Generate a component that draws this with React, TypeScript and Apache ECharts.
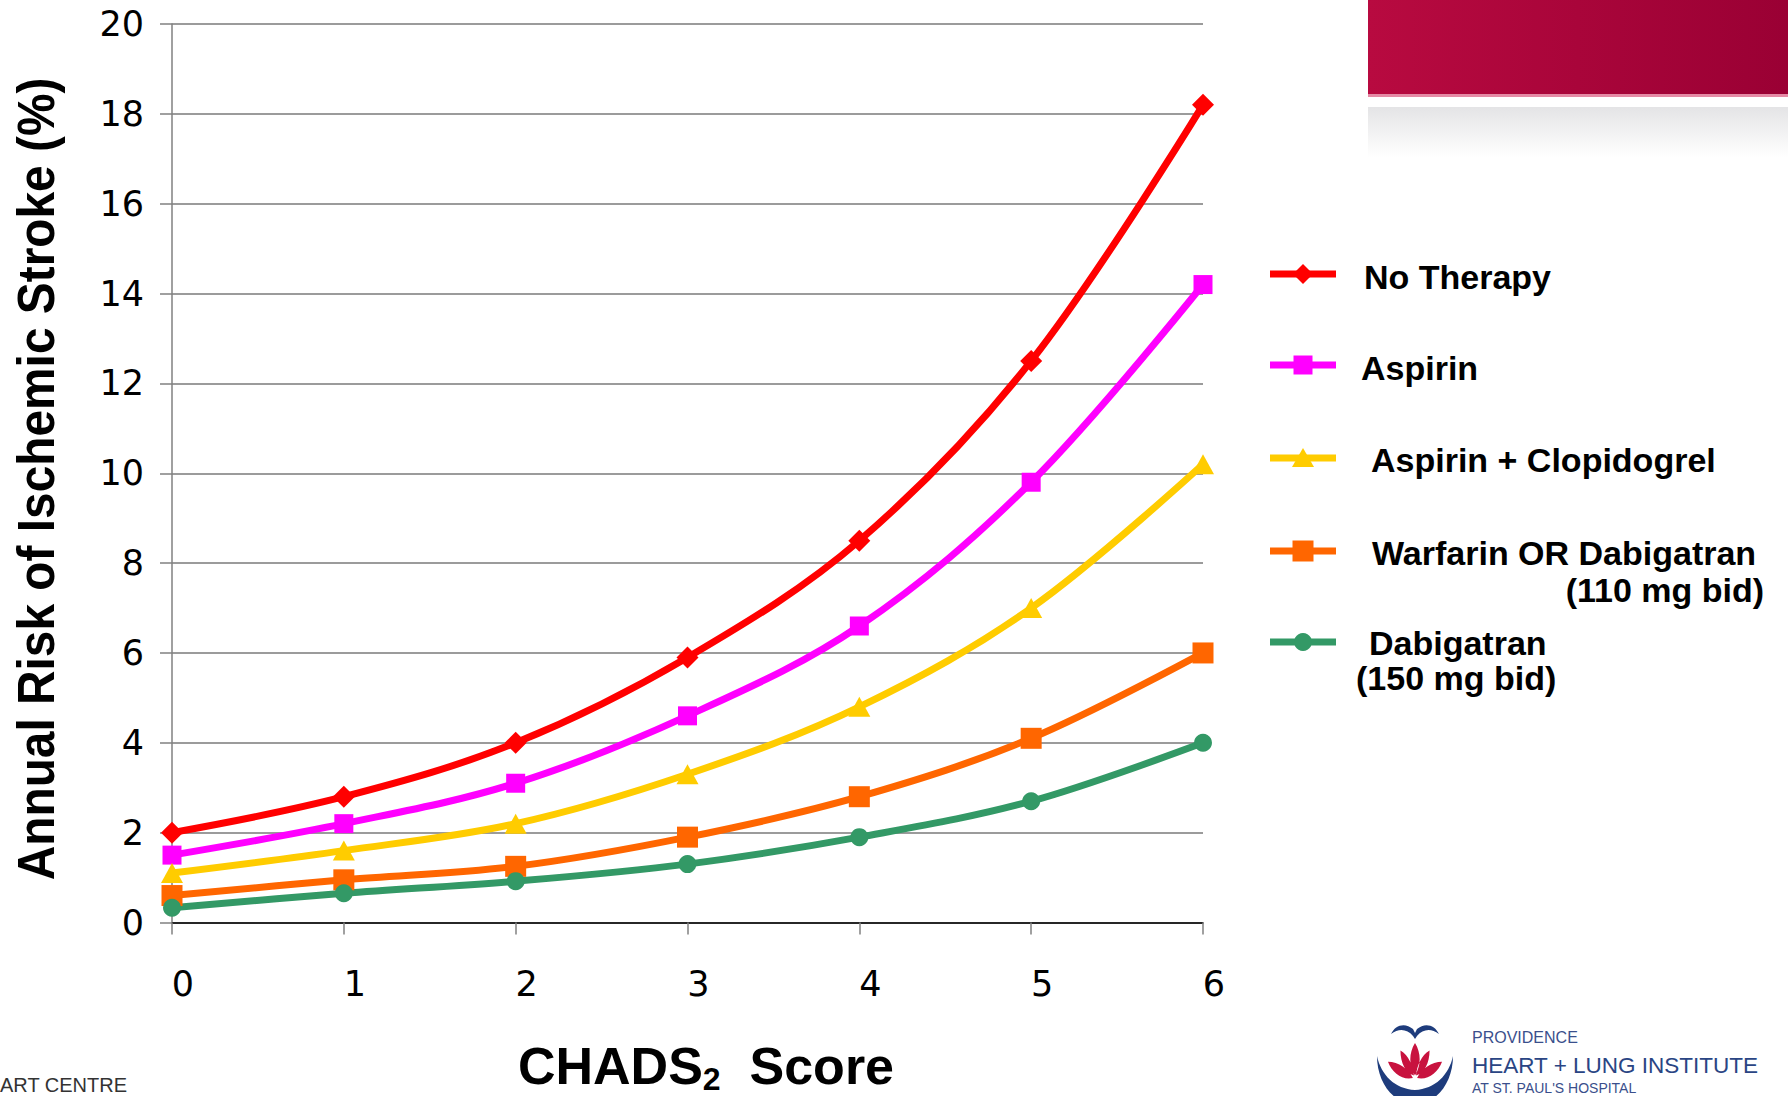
import React, { useEffect, useRef } from "react";
import * as echarts from "echarts";

// ---- Data ----
const categories = ["0", "1", "2", "3", "4", "5", "6"];
const noTherapy = [2.0, 2.8, 4.0, 5.9, 8.5, 12.5, 18.2];
const aspirin = [1.5, 2.2, 3.1, 4.6, 6.6, 9.8, 14.2];
const aspirinClopidogrel = [1.1, 1.6, 2.2, 3.3, 4.8, 7.0, 10.2];
const warfarinDabigatran110 = [0.6, 0.95, 1.25, 1.9, 2.8, 4.1, 6.0];
const dabigatran150 = [0.33, 0.65, 0.92, 1.3, 1.9, 2.7, 4.0];
const yTicks = { min: 0, max: 20, interval: 2 };

const seriesDefs = [
  { name: "No Therapy", data: noTherapy, color: "#FF0000", symbol: "diamond", size: [22, 22] },
  { name: "Aspirin", data: aspirin, color: "#FF00FF", symbol: "rect", size: [19, 19] },
  { name: "Aspirin + Clopidogrel", data: aspirinClopidogrel, color: "#FFCC00", symbol: "triangle", size: [22, 20] },
  { name: "Warfarin OR Dabigatran (110 mg bid)", data: warfarinDabigatran110, color: "#FF6600", symbol: "rect", size: [21, 21] },
  { name: "Dabigatran (150 mg bid)", data: dabigatran150, color: "#339966", symbol: "circle", size: [18, 18] },
];

// ---- Logo shapes ----
echarts.graphic.registerShape(
  "cup",
  echarts.graphic.extendPath(
    "M0,0 C0,26 16,48 38,48 C60,48 76,26 76,0 C72,19 58,33 38,34 C18,33 4,19 0,0 Z",
    {}
  )
);
echarts.graphic.registerShape(
  "wings",
  echarts.graphic.extendPath(
    "M0,12 C4,3 14,0 22,7 L24,11 L26,7 C34,0 44,3 48,12 C40,6 32,7 26,14 L24,17 L22,14 C16,7 8,6 0,12 Z",
    {}
  )
);
echarts.graphic.registerShape(
  "lotus",
  echarts.graphic.extendPath(
    "M0,0 C6,8 6,18 0,26 C-6,18 -6,8 0,0 Z " +
      "M-14,6 C-6,10 -2,18 -1,26 C-9,24 -14,16 -14,6 Z " +
      "M14,6 C6,10 2,18 1,26 C9,24 14,16 14,6 Z " +
      "M-26,15 C-16,15 -6,21 -2,28 C-12,30 -22,24 -26,15 Z " +
      "M26,15 C16,15 6,21 2,28 C12,30 22,24 26,15 Z",
    {}
  )
);

function legendItems(): any[] {
  const rows = [
    { y: 274, ty: 277 },
    { y: 365, ty: 368 },
    { y: 458, ty: 460 },
    { y: 551, ty: 553 },
    { y: 642, ty: 643 },
  ];
  const textX = [1364, 1361, 1371, 1372, 1369];
  const out: any[] = [];
  seriesDefs.forEach((s, i) => {
    const y = rows[i].y;
    out.push({
      type: "line",
      shape: { x1: 1270, y1: y, x2: 1336, y2: y },
      style: { stroke: s.color, lineWidth: 7 },
    });
    const cx = 1303;
    if (s.symbol === "diamond") {
      out.push({ type: "polygon", shape: { points: [[cx, y - 10], [cx + 10, y], [cx, y + 10], [cx - 10, y]] }, style: { fill: s.color } });
    } else if (s.symbol === "rect") {
      const w = s.size[0];
      out.push({ type: "rect", shape: { x: cx - w / 2, y: y - w / 2, width: w, height: w }, style: { fill: s.color } });
    } else if (s.symbol === "triangle") {
      out.push({ type: "polygon", shape: { points: [[cx, y - 10], [cx + 11, y + 9], [cx - 11, y + 9]] }, style: { fill: s.color } });
    } else {
      out.push({ type: "circle", shape: { cx, cy: y, r: 9 }, style: { fill: s.color } });
    }
  });
  const labels = ["No Therapy", "Aspirin", "Aspirin + Clopidogrel", "Warfarin OR Dabigatran", "Dabigatran"];
  labels.forEach((t, i) => {
    out.push({
      type: "text",
      x: textX[i],
      y: rows[i].ty,
      style: { text: t, fontFamily: "Liberation Sans", fontWeight: "bold", fontSize: 34, fill: "#000", align: "left", verticalAlign: "middle" },
    });
  });
  out.push({
    type: "text",
    x: 1764,
    y: 590,
    style: { text: "(110 mg bid)", fontFamily: "Liberation Sans", fontWeight: "bold", fontSize: 34, fill: "#000", align: "right", verticalAlign: "middle" },
  });
  out.push({
    type: "text",
    x: 1356,
    y: 678,
    style: { text: "(150 mg bid)", fontFamily: "Liberation Sans", fontWeight: "bold", fontSize: 34, fill: "#000", align: "left", verticalAlign: "middle" },
  });
  return out;
}

function decorations(): any[] {
  return [
    // top-right banner
    {
      type: "rect",
      shape: { x: 1368, y: 0, width: 420, height: 95 },
      style: {
        fill: new echarts.graphic.LinearGradient(0, 0, 1, 0, [
          { offset: 0, color: "#B80A40" },
          { offset: 1, color: "#9A0034" },
        ]),
      },
    },
    { type: "rect", shape: { x: 1368, y: 94, width: 420, height: 3 }, style: { fill: "#E58AA5" } },
    {
      type: "rect",
      shape: { x: 1368, y: 107, width: 420, height: 50 },
      style: {
        fill: new echarts.graphic.LinearGradient(0, 0, 0, 1, [
          { offset: 0, color: "#E4E4E6" },
          { offset: 1, color: "#FFFFFF" },
        ]),
      },
    },
    // y axis title
    {
      type: "text",
      x: 36,
      y: 479,
      rotation: Math.PI / 2,
      scaleX: 0.92,
      style: {
        text: "Annual Risk of Ischemic Stroke (%)",
        fontFamily: "Liberation Sans",
        fontWeight: "bold",
        fontSize: 52,
        fill: "#000",
        align: "center",
        verticalAlign: "middle",
      },
    },
    // x axis title
    {
      type: "text",
      x: 706,
      y: 1095,
      style: {
        text: "{a|CHADS}{s|2}{a|  Score}",
        align: "center",
        verticalAlign: "bottom",
        rich: {
          a: { fontFamily: "Liberation Sans", fontWeight: "bold", fontSize: 52, fill: "#000", verticalAlign: "bottom", padding: [0, 0, 3, 0] },
          s: { fontFamily: "Liberation Sans", fontWeight: "bold", fontSize: 32, fill: "#000", verticalAlign: "bottom" },
        },
      },
    },
    // bottom-left fragment
    {
      type: "text",
      x: 0,
      y: 1085,
      style: { text: "ART CENTRE", fontFamily: "Liberation Sans", fontSize: 20, fill: "#333", align: "left", verticalAlign: "middle" },
    },
    // logo
    { type: "cup", x: 1377, y: 1056, style: { fill: "#1E3C7C" } },
    { type: "wings", x: 1391, y: 1022, style: { fill: "#1E3C7C" } },
    { type: "lotus", x: 1415, y: 1043, scaleX: 1.04, scaleY: 1.25, style: { fill: "#C8123E" } },
    {
      type: "text",
      x: 1472,
      y: 1037,
      style: { text: "PROVIDENCE", fontFamily: "Liberation Sans", fontSize: 16, fill: "#3A4F8C", align: "left", verticalAlign: "middle" },
    },
    {
      type: "text",
      x: 1472,
      y: 1065,
      style: { text: "HEART + LUNG INSTITUTE", fontFamily: "Liberation Sans", fontSize: 22.5, fill: "#2A4584", align: "left", verticalAlign: "middle" },
    },
    {
      type: "text",
      x: 1472,
      y: 1088,
      style: { text: "AT ST. PAUL'S HOSPITAL", fontFamily: "Liberation Sans", fontSize: 14, fill: "#3A4F8C", align: "left", verticalAlign: "middle" },
    },
  ];
}

export default function App() {
  const ref = useRef<HTMLDivElement>(null);
  useEffect(() => {
    if (!ref.current) return;
    const chart = echarts.init(ref.current, null, { renderer: "svg" });
    const option: any = {
      animation: false,
      backgroundColor: "#ffffff",
      grid: { left: 172, right: 585, top: 24, bottom: 173.5, containLabel: false },
      xAxis: {
        type: "category",
        data: categories,
        boundaryGap: false,
        axisLine: { show: true, lineStyle: { color: "#000", width: 1.5 } },
        axisTick: { show: true, length: 12, lineStyle: { color: "#808080", width: 1.5 } },
        axisLabel: { fontFamily: "DejaVu Sans", fontSize: 35, color: "#000", margin: 44, padding: [0, 0, 0, 22] },
        splitLine: { show: false },
      },
      yAxis: {
        type: "value",
        min: yTicks.min,
        max: yTicks.max,
        interval: yTicks.interval,
        axisLine: { show: true, lineStyle: { color: "#808080", width: 1.5 } },
        axisTick: { show: true, length: 12, lineStyle: { color: "#808080", width: 1.5 } },
        axisLabel: { fontFamily: "DejaVu Sans", fontSize: 35, color: "#000", margin: 28 },
        splitLine: { show: true, lineStyle: { color: "#7a7a7a", width: 1.5 } },
      },
      series: seriesDefs.map((s) => ({
        name: s.name,
        type: "line",
        data: s.data,
        smooth: 0.35,
        symbol: s.symbol,
        symbolSize: s.size,
        showAllSymbol: true,
        clip: false,
        lineStyle: { color: s.color, width: 7 },
        itemStyle: { color: s.color },
        emphasis: { disabled: true },
      })),
      graphic: [...decorations(), ...legendItems()],
    };
    chart.setOption(option);
    return () => chart.dispose();
  }, []);
  return <div ref={ref} style={{ position: "fixed", left: 0, top: 0, width: 1788, height: 1096 }} />;
}
